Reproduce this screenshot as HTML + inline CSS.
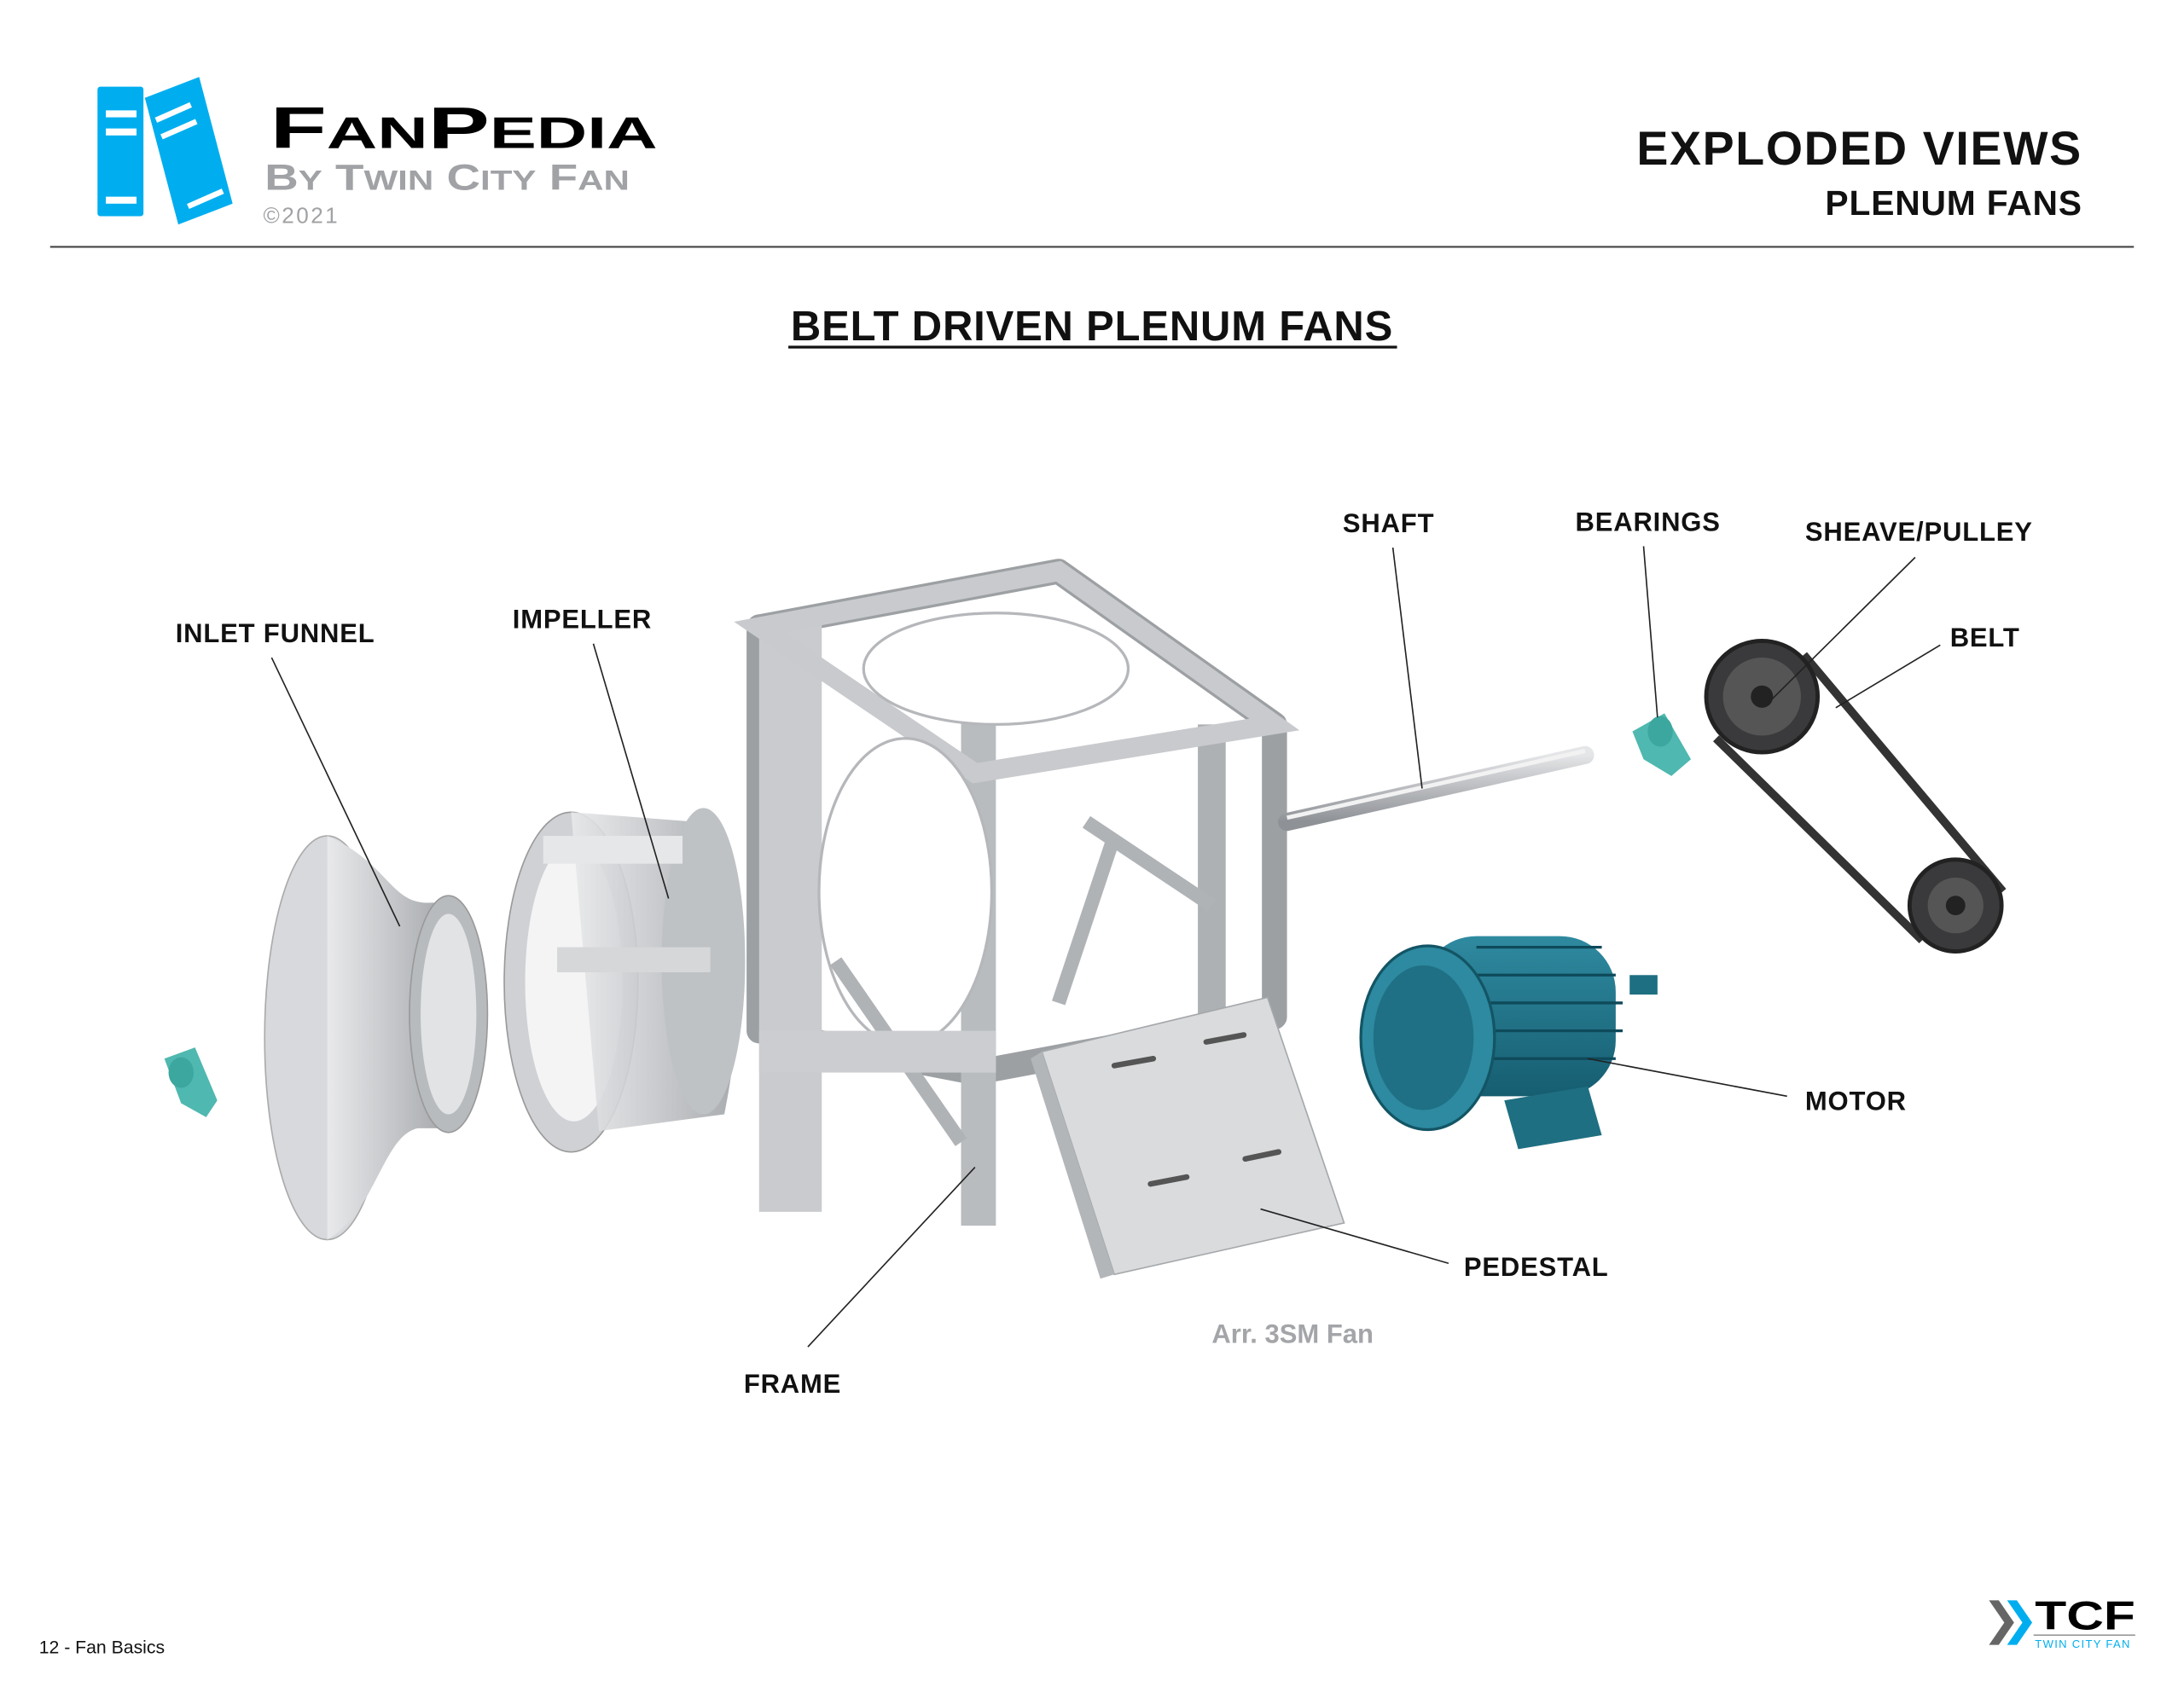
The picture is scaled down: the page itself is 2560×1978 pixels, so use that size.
<!DOCTYPE html>
<html><head><meta charset="utf-8"><style>
html,body{margin:0;padding:0;background:#fff;}
svg{display:block;}
text{font-family:"Liberation Sans",sans-serif;}
.lb{font-weight:bold;font-size:19px;fill:#111;letter-spacing:0.5px;}
.ld{stroke:#222;stroke-width:1;fill:none;}
</style></head><body>
<svg width="2560" height="1978" viewBox="0 0 1568 1211" xmlns="http://www.w3.org/2000/svg">
<defs>
<linearGradient id="gm" x1="0" y1="0" x2="1" y2="0"><stop offset="0" stop-color="#e8e9eb"/><stop offset="0.5" stop-color="#c4c6c9"/><stop offset="1" stop-color="#9ea1a5"/></linearGradient>
<linearGradient id="gt" x1="0" y1="0" x2="0" y2="1"><stop offset="0" stop-color="#2f8aa0"/><stop offset="1" stop-color="#165d70"/></linearGradient>
<linearGradient id="gs" x1="0" y1="0" x2="0" y2="1"><stop offset="0" stop-color="#e5e6e8"/><stop offset="1" stop-color="#8e9196"/></linearGradient>
</defs>
<!-- logo -->
<rect x="70" y="62" width="33" height="93" rx="2" fill="#00aeef"/>
<rect x="76" y="79" width="22" height="5" fill="#fff"/><rect x="76" y="92" width="22" height="5" fill="#fff"/><rect x="76" y="141" width="22" height="5" fill="#fff"/>
<polygon points="104,70 143,55 167,146 128,161" fill="#00aeef"/>
<line x1="112" y1="86" x2="137" y2="75" stroke="#fff" stroke-width="4"/><line x1="116" y1="98" x2="141" y2="87" stroke="#fff" stroke-width="4"/><line x1="135" y1="148" x2="160" y2="137" stroke="#fff" stroke-width="4"/>
<text x="194" y="106" font-size="42" font-weight="bold" fill="#000" textLength="278" lengthAdjust="spacingAndGlyphs">F<tspan font-size="32">AN</tspan>P<tspan font-size="32">EDIA</tspan></text>
<text x="190" y="136" font-size="26" font-weight="bold" fill="#a0a2a5" textLength="262" lengthAdjust="spacingAndGlyphs">B<tspan font-size="20">Y</tspan> T<tspan font-size="20">WIN</tspan> C<tspan font-size="20">ITY</tspan> F<tspan font-size="20">AN</tspan></text>
<text x="189" y="160" font-size="16" fill="#a0a2a5" letter-spacing="1.5">©2021</text>
<text x="1495" y="118" text-anchor="end" font-size="34" font-weight="bold" fill="#111" letter-spacing="1">EXPLODED VIEWS</text>
<text x="1495" y="154" text-anchor="end" font-size="25" font-weight="bold" fill="#111" letter-spacing="0.5">PLENUM FANS</text>
<line x1="36" y1="177" x2="1532" y2="177" stroke="#444" stroke-width="1.3"/>
<text x="784" y="244" text-anchor="middle" font-size="30" font-weight="bold" fill="#111" letter-spacing="0.5">BELT DRIVEN PLENUM FANS</text>
<line x1="566" y1="249" x2="1003" y2="249" stroke="#111" stroke-width="2"/>

<!-- left bearing -->
<polygon points="118,760 140,752 156,790 148,802 130,792" fill="#4fb8b0"/>
<ellipse cx="130" cy="770" rx="9" ry="11" fill="#3ca79f"/>
<!-- inlet funnel -->
<ellipse cx="235" cy="745" rx="45" ry="145" fill="#d7d9dc" stroke="#aaa"/>
<path d="M235,600 C280,620 280,650 310,648 L330,648 L330,810 L300,810 C275,815 270,870 235,890 Z" fill="url(#gm)"/>
<ellipse cx="322" cy="728" rx="28" ry="85" fill="#b8bbbe" stroke="#999"/>
<ellipse cx="322" cy="728" rx="20" ry="72" fill="#e2e3e5"/>
<!-- impeller -->
<ellipse cx="410" cy="705" rx="48" ry="122" fill="#cfd1d4" stroke="#999"/>
<ellipse cx="412" cy="705" rx="35" ry="100" fill="#f4f4f5"/>
<path d="M410,583 L500,590 C530,620 540,700 520,800 L430,812 Z" fill="url(#gm)" opacity="0.9"/>
<ellipse cx="505" cy="690" rx="30" ry="110" fill="#bfc2c5"/>
<rect x="390" y="600" width="100" height="20" fill="#e6e7e8"/><rect x="400" y="680" width="110" height="18" fill="#d5d7d9"/>
<!-- frame -->
<polygon points="545,450 760,410 915,520 915,730 700,770 545,740" fill="none" stroke="#9da0a3" stroke-width="18" stroke-linejoin="round"/>
<polygon points="545,450 590,445 590,870 545,870" fill="#c9cbce"/>
<polygon points="690,510 715,510 715,880 690,880" fill="#b9bcbf"/>
<polygon points="860,520 880,520 880,740 860,740" fill="#aeb1b4"/>
<polygon points="545,450 760,410 915,520 700,555" fill="none" stroke="#c8cacd" stroke-width="14"/>
<ellipse cx="650" cy="640" rx="62" ry="110" fill="#fff" stroke="#b5b7ba" stroke-width="2"/>
<ellipse cx="715" cy="480" rx="95" ry="40" fill="#fff" stroke="#b5b7ba" stroke-width="2"/>
<line x1="600" y1="690" x2="690" y2="820" stroke="#b0b3b6" stroke-width="10"/>
<line x1="780" y1="590" x2="870" y2="650" stroke="#b0b3b6" stroke-width="10"/>
<line x1="760" y1="720" x2="800" y2="600" stroke="#b0b3b6" stroke-width="10"/>
<rect x="545" y="740" width="170" height="30" fill="#cbcdd0"/>
<!-- pedestal -->
<polygon points="748,755 910,716 965,878 800,915" fill="#d9dbdd" stroke="#a5a8ab"/>
<polygon points="748,755 800,915 790,918 740,760" fill="#b3b6b9"/>
<line x1="800" y1="765" x2="828" y2="760" stroke="#555" stroke-width="4" stroke-linecap="round"/>
<line x1="866" y1="748" x2="893" y2="743" stroke="#555" stroke-width="4" stroke-linecap="round"/>
<line x1="826" y1="850" x2="852" y2="845" stroke="#555" stroke-width="4" stroke-linecap="round"/>
<line x1="894" y1="832" x2="918" y2="827" stroke="#555" stroke-width="4" stroke-linecap="round"/>
<!-- shaft -->
<line x1="924" y1="590" x2="1138" y2="542" stroke="url(#gs)" stroke-width="13" stroke-linecap="round"/>
<line x1="924" y1="587" x2="1138" y2="539" stroke="#f2f2f3" stroke-width="3"/>
<!-- bearing right -->
<polygon points="1172,525 1195,512 1214,545 1200,557 1180,545" fill="#4fb8b0"/>
<ellipse cx="1192" cy="525" rx="9" ry="11" fill="#3ca79f"/>
<!-- pulleys & belt -->
<path d="M1232,530 L1380,675 M1295,470 L1438,640" stroke="#333" stroke-width="6"/>
<circle cx="1265" cy="500" r="40" fill="#3a3a3c" stroke="#222" stroke-width="3"/>
<circle cx="1265" cy="500" r="28" fill="#555"/>
<circle cx="1265" cy="500" r="8" fill="#222"/>
<circle cx="1404" cy="650" r="33" fill="#3a3a3c" stroke="#222" stroke-width="3"/>
<circle cx="1404" cy="650" r="20" fill="#555"/>
<circle cx="1404" cy="650" r="7" fill="#222"/>
<!-- motor -->
<rect x="1020" y="672" width="140" height="115" rx="40" fill="url(#gt)"/>
<g stroke="#0e4a5a" stroke-width="2"><line x1="1060" y1="680" x2="1150" y2="680"/><line x1="1060" y1="700" x2="1160" y2="700"/><line x1="1060" y1="720" x2="1165" y2="720"/><line x1="1060" y1="740" x2="1165" y2="740"/><line x1="1060" y1="760" x2="1160" y2="760"/></g>
<ellipse cx="1025" cy="745" rx="48" ry="66" fill="#2d8aa0" stroke="#135565" stroke-width="2"/>
<ellipse cx="1022" cy="745" rx="36" ry="52" fill="#1f7085"/>
<polygon points="1080,790 1140,780 1150,815 1090,825" fill="#1f6f82"/>
<rect x="1170" y="700" width="20" height="14" fill="#1f6f82"/>
<!-- labels -->
<text class="lb" x="126" y="461">INLET FUNNEL</text>
<text class="lb" x="368" y="451">IMPELLER</text>
<text class="lb" x="964" y="382">SHAFT</text>
<text class="lb" x="1131" y="381">BEARINGS</text>
<text class="lb" x="1296" y="388">SHEAVE/PULLEY</text>
<text class="lb" x="1400" y="464">BELT</text>
<text class="lb" x="1296" y="797">MOTOR</text>
<text class="lb" x="1051" y="916">PEDESTAL</text>
<text class="lb" x="534" y="1000">FRAME</text>
<text x="870" y="964" font-size="19" font-weight="bold" fill="#a3a5a8">Arr. 3SM Fan</text>
<line class="ld" x1="195" y1="472" x2="287" y2="665"/>
<line class="ld" x1="426" y1="462" x2="480" y2="645"/>
<line class="ld" x1="1000" y1="393" x2="1021" y2="566"/>
<line class="ld" x1="1180" y1="392" x2="1190" y2="515"/>
<line class="ld" x1="1375" y1="400" x2="1268" y2="506"/>
<line class="ld" x1="1393" y1="463" x2="1318" y2="508"/>
<line class="ld" x1="1283" y1="787" x2="1140" y2="760"/>
<line class="ld" x1="1040" y1="907" x2="905" y2="868"/>
<line class="ld" x1="580" y1="967" x2="700" y2="838"/>
<!-- footer -->
<text x="28" y="1187" font-size="13" fill="#111">12 - Fan Basics</text>
<polygon points="1428,1149 1435,1149 1446,1165 1435,1181 1428,1181 1439,1165" fill="#666"/>
<polygon points="1441,1149 1448,1149 1459,1165 1448,1181 1441,1181 1452,1165" fill="#00aeef"/>
<text x="1461" y="1170" font-size="29" font-weight="bold" fill="#000" textLength="72" lengthAdjust="spacingAndGlyphs">TCF</text>
<line x1="1460" y1="1174" x2="1533" y2="1174" stroke="#999" stroke-width="1"/>
<text x="1461" y="1183" font-size="8" fill="#00aeef" letter-spacing="0.8">TWIN CITY FAN</text>
</svg>
</body></html>
